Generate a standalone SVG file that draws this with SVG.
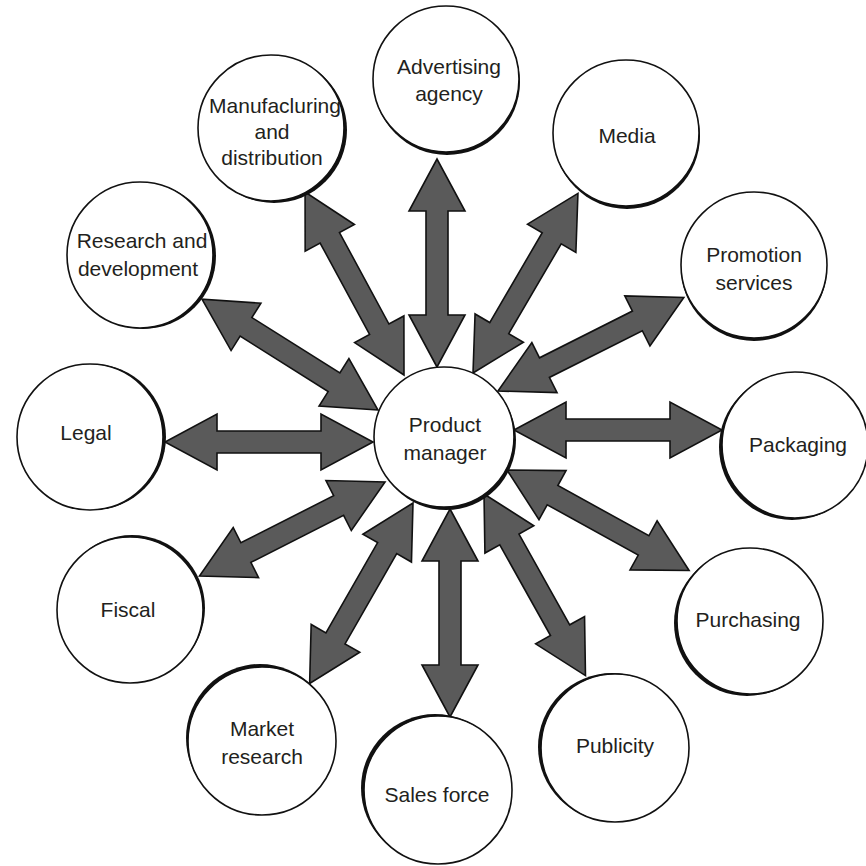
<svg xmlns="http://www.w3.org/2000/svg" xmlns:xlink="http://www.w3.org/1999/xlink" width="866" height="866" viewBox="0 0 866 866">
<style>
.sh{fill:#111}
.c{fill:#fff;stroke:#111;stroke-width:1.6}
.t{font-family:"Liberation Sans",Arial,sans-serif;font-size:21px;fill:#231f20;text-anchor:middle}
.a{fill:#5a5a5a;stroke:#111;stroke-width:1.6;stroke-linejoin:miter}
</style>
<defs>
<path id="arr" d="M0,0 L52,-28 L52,-11 L156,-11 L156,-28 L208,0 L156,28 L156,11 L52,11 L52,28 Z"/>
</defs>
<rect width="866" height="866" fill="#fff"/>
<g id="connectors">
<use xlink:href="#arr" class="a" transform="translate(437,367) rotate(-90)"/>
<use xlink:href="#arr" class="a" transform="translate(473,373) rotate(-59.7)"/>
<use xlink:href="#arr" class="a" transform="translate(498,391) rotate(-26.7)"/>
<use xlink:href="#arr" class="a" transform="translate(514,430) rotate(0)"/>
<use xlink:href="#arr" class="a" transform="translate(507,470) rotate(28.9)"/>
<use xlink:href="#arr" class="a" transform="translate(484,494) rotate(60.8)"/>
<use xlink:href="#arr" class="a" transform="translate(450,509) rotate(90)"/>
<use xlink:href="#arr" class="a" transform="translate(413,503) rotate(119.8)"/>
<use xlink:href="#arr" class="a" transform="translate(385,482) rotate(153.1)"/>
<use xlink:href="#arr" class="a" transform="translate(373,442) rotate(180)"/>
<use xlink:href="#arr" class="a" transform="translate(378,410) rotate(-147.8)"/>
<use xlink:href="#arr" class="a" transform="translate(404,375) rotate(-118.4)"/>
</g>
<g id="product-manager">
<circle class="sh" cx="446" cy="440" r="70"/>
<circle class="c" cx="444" cy="437" r="70"/>
<text class="t" x="445" y="432">Product</text>
<text class="t" x="445" y="460">manager</text>
</g>
<g id="advertising-agency">
<circle class="sh" cx="447" cy="82" r="73"/>
<circle class="c" cx="446" cy="79" r="73"/>
<text class="t" x="449" y="74">Advertising</text>
<text class="t" x="449" y="101">agency</text>
</g>
<g id="media">
<circle class="sh" cx="627" cy="136" r="73"/>
<circle class="c" cx="626" cy="133" r="73"/>
<text class="t" x="627" y="143">Media</text>
</g>
<g id="promotion-services">
<circle class="sh" cx="754" cy="268" r="73"/>
<circle class="c" cx="754" cy="265" r="73"/>
<text class="t" x="754" y="262">Promotion</text>
<text class="t" x="754" y="290">services</text>
</g>
<g id="packaging">
<circle class="sh" cx="792" cy="447" r="73"/>
<circle class="c" cx="795" cy="445" r="73"/>
<text class="t" x="798" y="452">Packaging</text>
</g>
<g id="purchasing">
<circle class="sh" cx="747" cy="623" r="73"/>
<circle class="c" cx="750" cy="621" r="73"/>
<text class="t" x="748" y="627">Purchasing</text>
</g>
<g id="publicity">
<circle class="sh" cx="612" cy="747" r="74"/>
<circle class="c" cx="615" cy="748" r="74"/>
<text class="t" x="615" y="753">Publicity</text>
</g>
<g id="sales-force">
<circle class="sh" cx="435" cy="788" r="74"/>
<circle class="c" cx="438" cy="790" r="74"/>
<text class="t" x="437" y="802">Sales force</text>
</g>
<g id="market-research">
<circle class="sh" cx="260" cy="738" r="74"/>
<circle class="c" cx="262" cy="741" r="74"/>
<text class="t" x="262" y="736">Market</text>
<text class="t" x="262" y="764">research</text>
</g>
<g id="fiscal">
<circle class="sh" cx="132" cy="608" r="73"/>
<circle class="c" cx="130" cy="610" r="73"/>
<text class="t" x="128" y="617">Fiscal</text>
</g>
<g id="legal">
<circle class="sh" cx="93" cy="437" r="73"/>
<circle class="c" cx="90" cy="437" r="73"/>
<text class="t" x="86" y="440">Legal</text>
</g>
<g id="research-and-development">
<circle class="sh" cx="143" cy="256" r="73"/>
<circle class="c" cx="140" cy="255" r="73"/>
<text class="t" x="142" y="248">Research and</text>
<text class="t" x="138" y="276">development</text>
</g>
<g id="manufacturing-and-distribution">
<circle class="sh" cx="274" cy="130" r="73"/>
<circle class="c" cx="271" cy="128" r="73"/>
<text class="t" x="275" y="113">Manufacluring</text>
<text class="t" x="272" y="139">and</text>
<text class="t" x="272" y="165">distribution</text>
</g>
</svg>
